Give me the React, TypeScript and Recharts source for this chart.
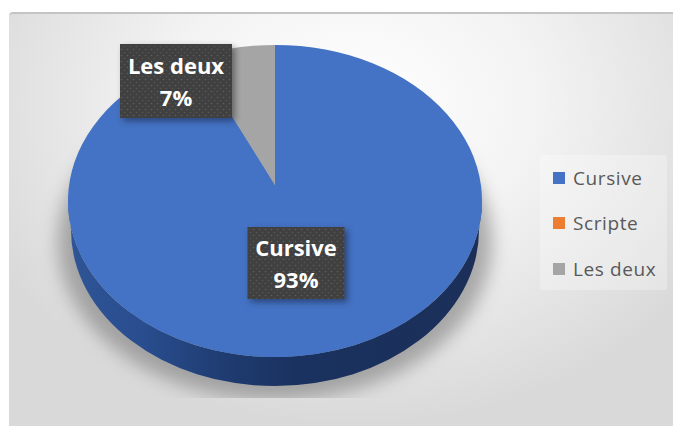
import { Cell, Legend, Pie, PieChart } from "recharts"

const CATEGORIES = ["Cursive", "Scripte", "Les deux"]
const SHARES = [93, 0, 7]
const COLORS = ["#4472C4", "#ED7D31", "#A5A5A5"]

const pieData = CATEGORIES.map((name, i) => ({ name, value: SHARES[i] }))

// 3D look: the disc is an ellipse, and its centre sits lower than the slice apex
const SQUASH = 0.754
const APEX_SHIFT = 16
const DEPTH = 29
const LABEL_FONT = "'Open Sans', sans-serif"

// where the labels sit, relative to the apex (Excel's best fit, not the slice middle)
const LABEL_OFFSET: Record<string, [number, number]> = {
  Cursive: [21, 78],
  "Les deux": [-99, -104],
}

function edgePoint(cx: number, cy: number, r: number, deg: number) {
  const a = (deg * Math.PI) / 180
  const dx = Math.cos(a) * r
  const dy = -Math.sin(a) * r * SQUASH
  const ry = r * SQUASH
  const A = (dx / r) ** 2 + (dy / ry) ** 2
  const B = (-2 * APEX_SHIFT * dy) / (ry * ry)
  const C = (APEX_SHIFT / ry) ** 2 - 1
  const t = (-B + Math.sqrt(B * B - 4 * A * C)) / (2 * A)
  return [cx + t * dx, cy + t * dy]
}

function TopSlice(props: any) {
  const { cx, cy, outerRadius: r, startAngle, endAngle, fill } = props
  if (Math.abs(startAngle - endAngle) < 0.01) return null
  const [x0, y0] = edgePoint(cx, cy, r, startAngle)
  const [x1, y1] = edgePoint(cx, cy, r, endAngle)
  const large = Math.abs(startAngle - endAngle) > 180 ? 1 : 0
  const d = `M${cx},${cy} L${x0},${y0} A${r},${r * SQUASH} 0 ${large} 1 ${x1},${y1} Z`
  return <path d={d} fill={fill} />
}

// only the big slice shows its side, the small one is at the back
function WallSlice(props: any) {
  const { cx, cy, outerRadius: r, percent } = props
  if (percent < 0.5) return null
  const my = cy + APEX_SHIFT
  const ry = r * SQUASH
  const d = `M${cx - r},${my} A${r},${ry} 0 0 0 ${cx + r},${my} L${cx + r - 3},${my + DEPTH} A${r - 3},${ry} 0 0 1 ${cx - r + 3},${my + DEPTH} Z`
  return (
    <g>
      <g clipPath="url(#shadowClip)">
        <ellipse cx={cx} cy={my + DEPTH + 12} rx={r + 10} ry={ry + 2} fill="#6a6a6a" opacity={0.52} filter="url(#softShadow)" />
      </g>
      <path d={d} fill="url(#wallGradient)" />
    </g>
  )
}

function renderLabel(props: any) {
  const { cx, cy, name, percent } = props
  if (!percent) return null
  const [ox, oy] = LABEL_OFFSET[name]
  const x = cx + ox
  const y = cy + oy
  const w = name === "Cursive" ? 97 : 112
  const h = name === "Cursive" ? 72 : 74
  return (
    <g>
      <rect x={x - w / 2} y={y - h / 2} width={w} height={h} fill="#3f3f3f" filter="url(#labelShadow)" />
      <rect x={x - w / 2} y={y - h / 2} width={w} height={h} fill="url(#dots)" />
      <text x={x} y={y - 7} textAnchor="middle" fill="#fff" fontFamily={LABEL_FONT} fontWeight={700} fontSize={22}>
        {name}
      </text>
      <text x={x} y={y + 25} textAnchor="middle" fill="#fff" fontFamily={LABEL_FONT} fontWeight={700} fontSize={22}>
        {Math.round(percent * 100)}%
      </text>
    </g>
  )
}

function LegendBox({ payload }: any) {
  const items = (payload || []).filter((item: any) => item.type !== "none")
  return (
    <div style={{ width: 127, height: 135, background: "rgba(255,255,255,0.28)", borderRadius: 2 }}>
      {items.map((item: any, i: number) => (
        <div key={`leg-${i}`} style={{ display: "flex", alignItems: "center", height: 45.5, paddingLeft: 13 }}>
          <span style={{ width: 12, height: 12, background: item.color, marginRight: 8, display: "block" }} />
          <span style={{ fontFamily: "'Open Sans', sans-serif", fontSize: 19, letterSpacing: 0.6, color: "#595959" }}>{item.value}</span>
        </div>
      ))}
    </div>
  )
}

export default function App() {
  return (
    <div style={{ position: "absolute", left: 0, top: 0, width: 673, height: 426, background: "#fff", overflow: "hidden" }}>
      <div
        style={{
          position: "absolute",
          left: 9,
          top: 12,
          width: 664,
          height: 414,
          borderTop: "2px solid #c4c4c4",
          borderTopLeftRadius: 4,
          boxSizing: "border-box",
          background: "radial-gradient(ellipse 62% 78% at 52% 22%, #ffffff 0%, #f3f3f3 45%, #d9d9d9 100%)",
        }}
      />
      <div style={{ position: "absolute", left: 0, top: 0 }}>
        <PieChart width={673} height={426} margin={{ top: 0, right: 0, bottom: 0, left: 0 }}>
          <defs>
            <linearGradient id="wallGradient" x1="0" y1="0" x2="1" y2="0">
              <stop offset="0%" stopColor="#2f5597" />
              <stop offset="18%" stopColor="#294d8e" />
              <stop offset="40%" stopColor="#1e3a6e" />
              <stop offset="55%" stopColor="#1a3260" />
              <stop offset="100%" stopColor="#1b2f58" />
            </linearGradient>
            <filter id="softShadow" x="-10%" y="-10%" width="120%" height="125%">
              <feGaussianBlur stdDeviation="9" />
            </filter>
            <filter id="labelShadow" x="-10%" y="-10%" width="125%" height="130%">
              <feDropShadow dx="3" dy="3" stdDeviation="3" floodColor="#000" floodOpacity="0.4" />
            </filter>
            <clipPath id="shadowClip">
              <rect x="9" y="12" width="664" height="386" />
            </clipPath>
            <pattern id="dots" width="6" height="6" patternUnits="userSpaceOnUse">
              <circle cx="1.5" cy="1.5" r="0.8" fill="#5e5e5e" />
              <circle cx="4.5" cy="4.5" r="0.8" fill="#565656" />
            </pattern>
          </defs>
          <Pie
            data={pieData}
            dataKey="value"
            nameKey="name"
            cx={275}
            cy={185}
            outerRadius={207}
            startAngle={90}
            endAngle={-270}
            stroke="none"
            legendType="none"
            shape={WallSlice}
            isAnimationActive={false}
          />
          <Pie
            data={pieData}
            dataKey="value"
            nameKey="name"
            cx={275}
            cy={185}
            outerRadius={207}
            startAngle={90}
            endAngle={-270}
            stroke="none"
            shape={TopSlice}
            label={renderLabel}
            labelLine={false}
            isAnimationActive={false}
          >
            {pieData.map((entry, index) => (
              <Cell key={`cell-${index}`} fill={COLORS[index % COLORS.length]} />
            ))}
          </Pie>
          <Legend
            content={LegendBox}
            itemSorter={null}
            layout="vertical"
            wrapperStyle={{ left: 540, top: 155, width: 127, height: 135, bottom: "auto", right: "auto" }}
          />
        </PieChart>
      </div>
    </div>
  )
}
